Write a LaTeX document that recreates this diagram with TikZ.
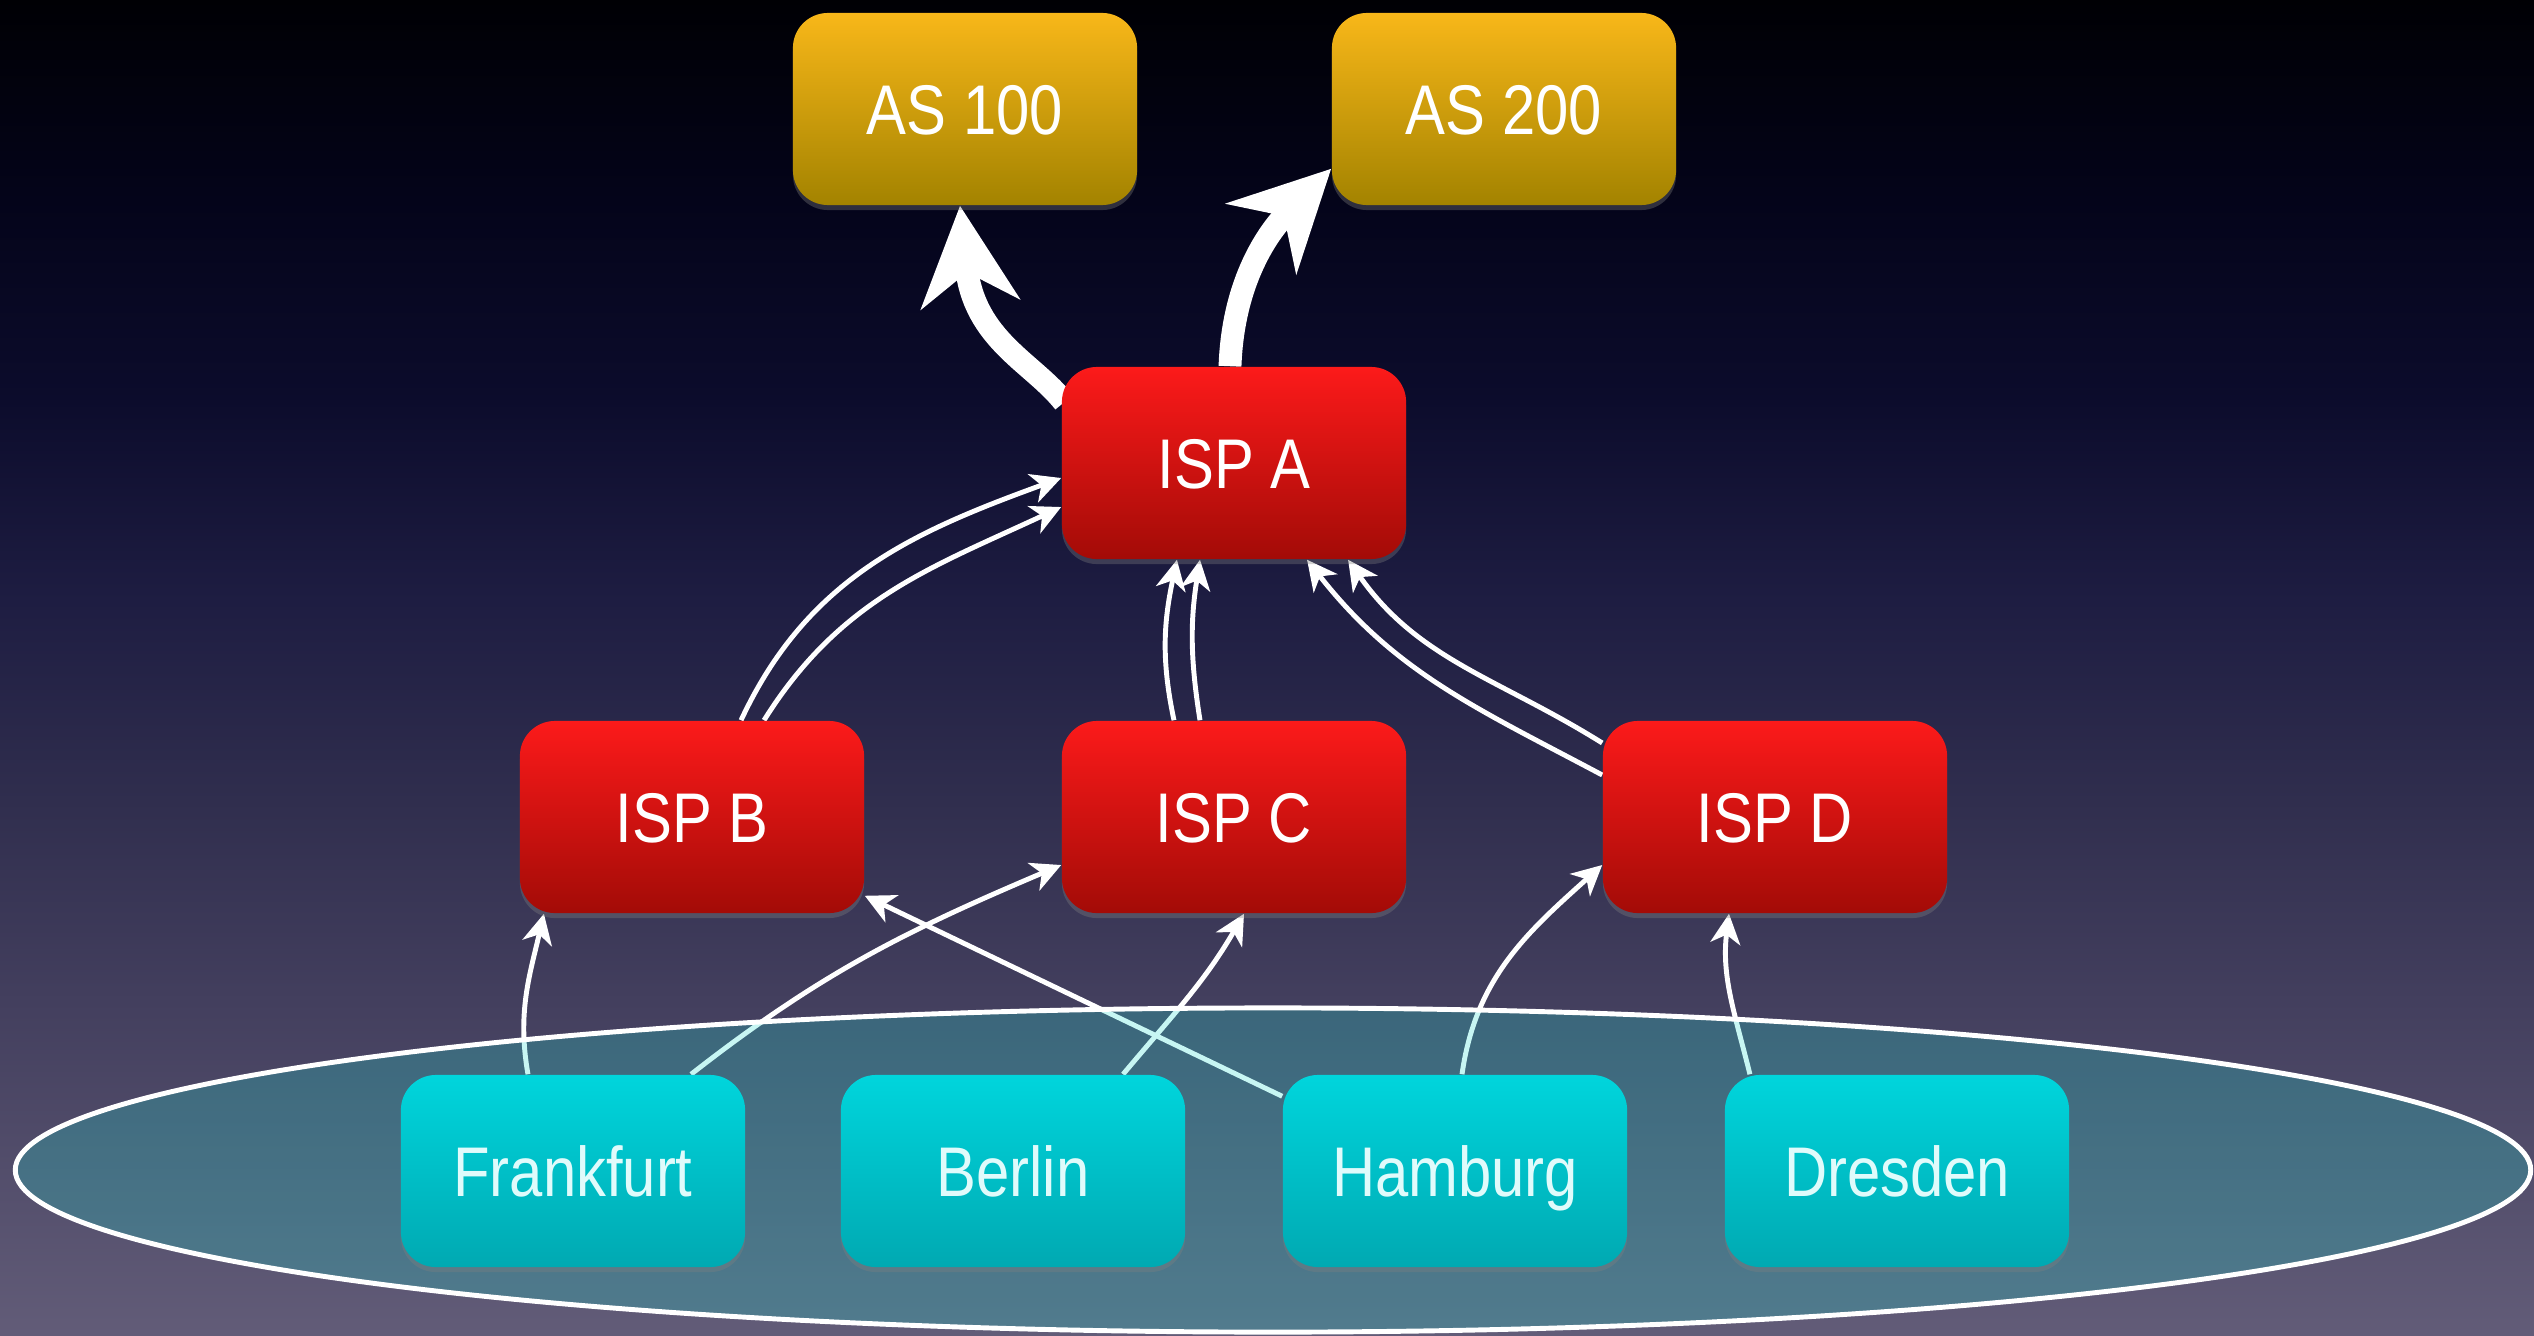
\documentclass[tikz,border=0pt]{standalone}
\usepackage{fontspec}
\setmainfont{Liberation Sans}[FakeStretch=0.85]
\usetikzlibrary{arrows.meta,shadows,calc}
\pgfdeclarelayer{bglayer}
\pgfdeclarelayer{linelayer}
\pgfsetlayers{bglayer,linelayer,main}
\definecolor{bg0}{HTML}{625C78}
\definecolor{bg1}{HTML}{433F5E}
\definecolor{bg2}{HTML}{302E4E}
\definecolor{bg3}{HTML}{1E1D42}
\definecolor{bg4}{HTML}{0C0C2C}
\definecolor{bg5}{HTML}{04041A}
\definecolor{bg6}{HTML}{000004}
\pgfdeclareverticalshading{bgshade}{100bp}{color(0bp)=(bg0); color(25bp)=(bg0); color(37.5bp)=(bg1); color(45bp)=(bg2); color(52.5bp)=(bg3); color(60bp)=(bg4); color(67.5bp)=(bg5); color(75bp)=(bg6); color(100bp)=(bg6)}
\definecolor{goldtop}{HTML}{F8B719}
\definecolor{goldbot}{HTML}{A38300}
\definecolor{redtop}{HTML}{FC1A1A}
\definecolor{redbot}{HTML}{A30B07}
\definecolor{cyantop}{HTML}{00D5DC}
\definecolor{cyanbot}{HTML}{00A9B2}
\definecolor{citytext}{HTML}{E0FBFB}
\definecolor{tint}{HTML}{22DCD0}
\tikzset{
  box/.style={rounded corners=0.35cm, minimum width=3.44cm, minimum height=1.92cm,
    inner sep=0pt, font=\fontsize{20}{24}\selectfont, text height=0.5cm, text depth=0pt,
    drop shadow={opacity=0.35, shadow xshift=0pt, shadow yshift=-0.05cm}},
  asbox/.style={box, top color=goldtop, bottom color=goldbot, text=white},
  ispbox/.style={box, top color=redtop, bottom color=redbot, text=white},
  citybox/.style={box, top color=cyantop, bottom color=cyanbot, text=citytext},
  thinarrow/.style={draw=white, line width=1.4pt, -{Stealth[length=8.5pt, width=8.5pt, inset=2.5pt]}},
  thickarrow/.style={draw=white, line width=6.5pt, -{Stealth[length=28pt, width=28pt, inset=9pt]}},
}
\begin{document}
\begin{tikzpicture}[x=0.01cm, y=0.01cm]
\useasboundingbox (0,0) rectangle (2534,1335);
\begin{pgfonlayer}{bglayer}
  \shade[shading=bgshade] (0,0) rectangle (2534,1335);
\end{pgfonlayer}

% nodes
\node[asbox] (AS100) at (965,1226) {AS 100};
\node[asbox] (AS200) at (1504,1226) {AS 200};
\node[ispbox] (ISPA) at (1234,872) {ISP A};
\node[ispbox] (ISPB) at (692,518) {ISP B};
\node[ispbox] (ISPC) at (1234,518) {ISP C};
\node[ispbox] (ISPD) at (1775,518) {ISP D};
\node[citybox] (Frankfurt) at (573,164) {Frankfurt};
\node[citybox] (Berlin) at (1013,164) {Berlin};
\node[citybox] (Hamburg) at (1455,164) {Hamburg};
\node[citybox] (Dresden) at (1897,164) {Dresden};

\begin{pgfonlayer}{linelayer}
  % thick arrows
  \draw[thickarrow] ([xshift=0.03cm,yshift=-0.36cm]ISPA.north west) .. controls +(128:0.5cm) and +(-84:1.35cm) .. ([xshift=-0.05cm]AS100.south);
  \draw[thickarrow] ([xshift=-0.04cm]ISPA.north) to[out=88,in=-135] ([yshift=0.37cm]AS200.south west);
  % ISP B -> ISP A
  \draw[thinarrow] ([xshift=0.49cm]ISPB.north) to[out=65,in=200] ([yshift=-0.15cm]ISPA.west);
  \draw[thinarrow] ([xshift=0.72cm]ISPB.north) to[out=58,in=205] ([yshift=-0.44cm]ISPA.west);
  % ISP C -> ISP A
  \draw[thinarrow] ([xshift=-0.60cm]ISPC.north) to[out=102,in=-102] ([xshift=-0.57cm]ISPA.south);
  \draw[thinarrow] ([xshift=-0.34cm]ISPC.north) to[out=99,in=-99] ([xshift=-0.34cm]ISPA.south);
  % ISP D -> ISP A
  \draw[thinarrow] ([yshift=0.42cm]ISPD.west) to[out=152,in=-52] ([xshift=0.73cm]ISPA.south);
  \draw[thinarrow] ([yshift=0.74cm]ISPD.west) to[out=148,in=-55] ([xshift=1.14cm]ISPA.south);
  % cities -> ISPs
  \draw[thinarrow] ([xshift=-0.45cm]Frankfurt.north) to[out=100,in=-103] ([xshift=-1.48cm]ISPB.south);
  \draw[thinarrow] ([xshift=1.18cm]Frankfurt.north) to[out=38,in=203] ([yshift=-0.48cm]ISPC.west);
  \draw[thinarrow] ([yshift=-0.22cm]Hamburg.north west) -- ([yshift=0.18cm]ISPB.south east);
  \draw[thinarrow] ([xshift=1.10cm]Berlin.north) to[out=50,in=-120] ([xshift=0.10cm]ISPC.south);
  \draw[thinarrow] ([xshift=0.07cm]Hamburg.north) to[out=82,in=222] ([yshift=-0.48cm]ISPD.west);
  \draw[thinarrow] ([xshift=-1.47cm]Dresden.north) to[out=104,in=-97] ([xshift=-0.46cm]ISPD.south);
  % region ellipse (translucent tint over lines)
  \fill[tint, fill opacity=0.25] (1273,165) ellipse [x radius=12.57cm, y radius=1.62cm];
  \draw[white, line width=1.4pt] (1273,165) ellipse [x radius=12.57cm, y radius=1.62cm];
\end{pgfonlayer}
\end{tikzpicture}
\end{document}
